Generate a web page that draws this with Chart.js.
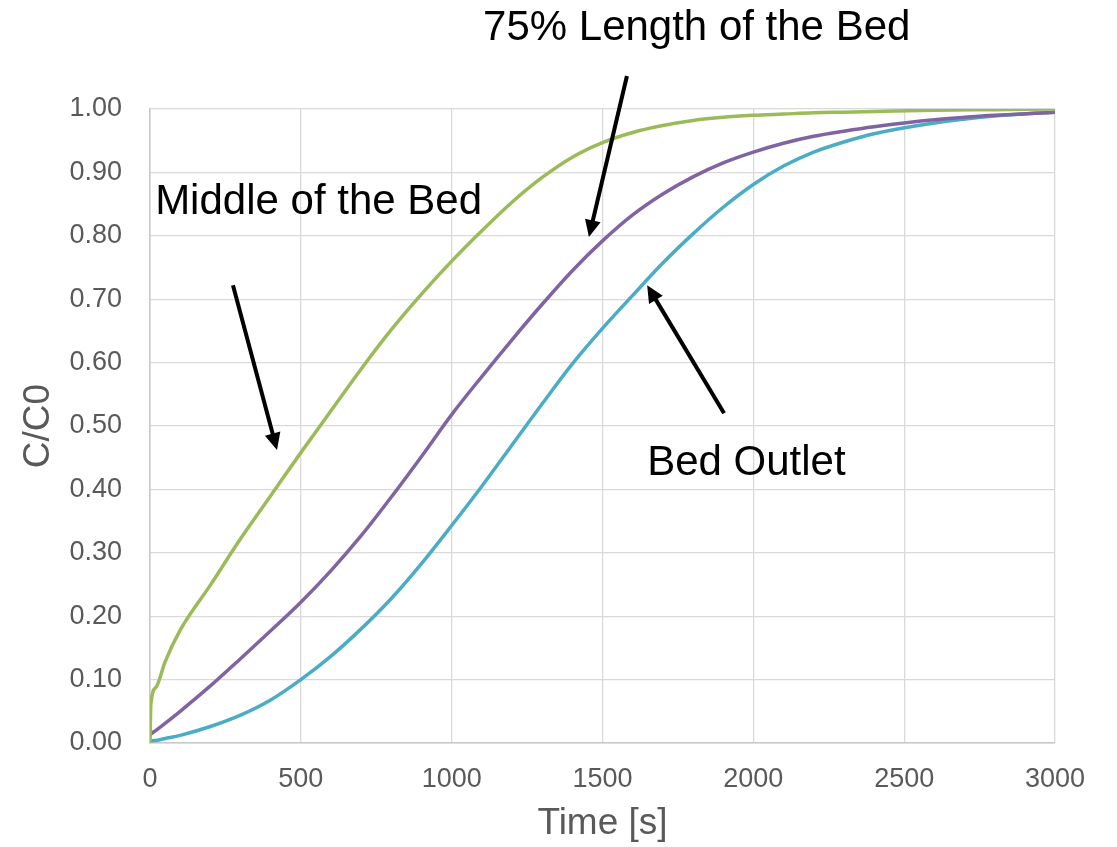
<!DOCTYPE html>
<html>
<head>
<meta charset="utf-8">
<script src="https://cdn.jsdelivr.net/npm/chart.js@4/dist/chart.umd.min.js"></script>
<style>
  html, body { margin: 0; padding: 0; background: #ffffff; }
  #wrap { width: 1117px; height: 847px; }
</style>
</head>
<body>
<div id="wrap"><canvas id="c" width="1117" height="847"></canvas></div>
<script>
// ---- Data ----
const times = [0, 3, 20, 50, 100, 200, 300, 400, 500, 600, 700, 800, 900, 1000, 1100, 1200, 1300, 1400, 1500, 1600, 1700, 1800, 1900, 2000, 2100, 2200, 2300, 2400, 2600, 2800, 3000];
const middleOfBed = [0.000, 0.062, 0.088, 0.128, 0.178, 0.249, 0.322, 0.390, 0.458, 0.524, 0.590, 0.652, 0.708, 0.760, 0.808, 0.853, 0.892, 0.924, 0.947, 0.963, 0.974, 0.982, 0.987, 0.990, 0.992, 0.994, 0.995, 0.996, 0.998, 0.999, 1.000];
const length75 = [0.012, 0.014, 0.020, 0.031, 0.050, 0.090, 0.133, 0.177, 0.222, 0.272, 0.327, 0.388, 0.452, 0.518, 0.578, 0.636, 0.692, 0.745, 0.792, 0.833, 0.866, 0.893, 0.915, 0.932, 0.946, 0.957, 0.965, 0.972, 0.983, 0.990, 0.995];
const bedOutlet = [0.002, 0.003, 0.004, 0.007, 0.012, 0.026, 0.044, 0.068, 0.100, 0.137, 0.180, 0.228, 0.283, 0.343, 0.405, 0.470, 0.535, 0.598, 0.654, 0.706, 0.757, 0.803, 0.845, 0.881, 0.910, 0.932, 0.948, 0.961, 0.978, 0.989, 0.995];

const xTicks = [0, 500, 1000, 1500, 2000, 2500, 3000];
const yTicks = [0.0, 0.1, 0.2, 0.3, 0.4, 0.5, 0.6, 0.7, 0.8, 0.9, 1.0];

const seriesNames = ['Middle of the Bed', '75% Length of the Bed', 'Bed Outlet'];
const seriesColors = ['#9BBB59', '#8064A2', '#4BACC6'];

// Annotation labels and arrows, in data coordinates (time, C/C0)
const labelTexts = ['75% Length of the Bed', 'Middle of the Bed', 'Bed Outlet'];
const labelPos = [[1104, 1.109], [17, 0.834], [1648, 0.423]];
const arrowTails = [[275, 0.722], [1581, 1.052], [1903, 0.520]];
const arrowTips = [[421, 0.462], [1455, 0.798], [1648, 0.722]];

const FONT = '"Liberation Sans", Arial, Helvetica, sans-serif';

function toPoints(vals) { return times.map((t, i) => ({ x: t, y: vals[i] })); }

const annotationPlugin = {
  id: 'annotations',
  afterDatasetsDraw(chart) {
    const ctx = chart.ctx;
    const xs = chart.scales.x, ys = chart.scales.y;
    ctx.save();
    ctx.strokeStyle = '#000000';
    ctx.fillStyle = '#000000';
    ctx.lineWidth = 4;
    ctx.lineCap = 'butt';
    for (let i = 0; i < arrowTails.length; i++) {
      const x1 = xs.getPixelForValue(arrowTails[i][0]);
      const y1 = ys.getPixelForValue(arrowTails[i][1]);
      const x2 = xs.getPixelForValue(arrowTips[i][0]);
      const y2 = ys.getPixelForValue(arrowTips[i][1]);
      const dx = x2 - x1, dy = y2 - y1;
      const len = Math.hypot(dx, dy);
      const ux = dx / len, uy = dy / len;
      const headLen = 17, headW = 8;
      const bx = x2 - ux * headLen, by = y2 - uy * headLen;
      ctx.beginPath();
      ctx.moveTo(x1, y1);
      ctx.lineTo(bx + ux * 2, by + uy * 2);
      ctx.stroke();
      ctx.beginPath();
      ctx.moveTo(x2, y2);
      ctx.lineTo(bx - uy * headW, by + ux * headW);
      ctx.lineTo(bx + uy * headW, by - ux * headW);
      ctx.closePath();
      ctx.fill();
    }
    ctx.font = '42px ' + FONT;
    ctx.textAlign = 'left';
    ctx.textBaseline = 'alphabetic';
    for (let i = 0; i < labelTexts.length; i++) {
      ctx.fillText(labelTexts[i], xs.getPixelForValue(labelPos[i][0]), ys.getPixelForValue(labelPos[i][1]));
    }
    ctx.restore();
  }
};

new Chart(document.getElementById('c'), {
  type: 'line',
  data: {
    datasets: [0, 1, 2].map(i => ({
      label: seriesNames[i],
      data: toPoints([middleOfBed, length75, bedOutlet][i]),
      borderColor: seriesColors[i],
      backgroundColor: seriesColors[i],
      borderWidth: 3.5,
      pointRadius: 0,
      fill: false,
      cubicInterpolationMode: 'monotone'
    }))
  },
  options: {
    responsive: false,
    animation: false,
    devicePixelRatio: 1,
    layout: { padding: { top: 109, right: 62, left: 0, bottom: 0 } },
    plugins: { legend: { display: false }, tooltip: { enabled: false } },
    scales: {
      x: {
        type: 'linear',
        min: 0, max: 3000,
        afterBuildTicks(scale) { scale.ticks = xTicks.map(v => ({ value: v })); },
        afterFit(scale) { scale.height = 104; },
        grid: { color: '#D9D9D9', lineWidth: 1.3, drawTicks: false },
        border: { color: '#C8C8C8', width: 1.5 },
        ticks: { color: '#595959', font: { family: FONT, size: 27 }, padding: 20, maxRotation: 0, callback: v => String(v) },
        title: { display: true, text: 'Time [s]', color: '#595959', font: { family: FONT, size: 37, lineHeight: 1 }, padding: { top: 0, bottom: 5 } }
      },
      y: {
        type: 'linear',
        min: 0, max: 1,
        afterBuildTicks(scale) { scale.ticks = yTicks.map(v => ({ value: v })); },
        afterFit(scale) { scale.width = 150; },
        grid: { color: '#D9D9D9', lineWidth: 1.3, drawTicks: false },
        border: { color: '#C8C8C8', width: 1.5 },
        ticks: { color: '#595959', font: { family: FONT, size: 27 }, padding: 28, callback: v => Number(v).toFixed(2) },
        title: { display: true, text: 'C/C0', color: '#595959', font: { family: FONT, size: 37, lineHeight: 1 }, padding: { top: 20, bottom: 0 } }
      }
    }
  },
  plugins: [annotationPlugin]
});
</script>
</body>
</html>
